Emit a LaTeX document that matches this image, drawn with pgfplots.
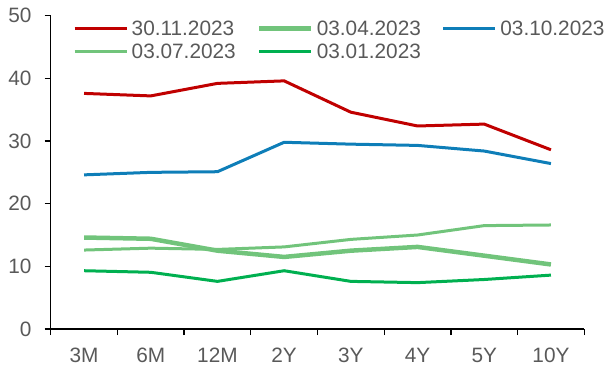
\documentclass[border=0pt]{standalone}
\usepackage{pgfplots}
\pgfplotsset{compat=1.18}
\usepackage{fontspec}
\setmainfont{Liberation Sans}

\definecolor{nov}{HTML}{C00000}
\definecolor{oct}{HTML}{0E7EB8}
\definecolor{midgreen}{HTML}{71C47B}
\definecolor{jan}{HTML}{00B050}
\definecolor{labgray}{HTML}{595959}

\newcommand{\chartfont}{\fontsize{20.8bp}{25bp}\selectfont}

\begin{document}
\begin{tikzpicture}
\begin{axis}[
  name=ax,
  scale only axis,
  width=533.6bp, height=313.3bp,
  xmin=-0.5, xmax=7.5, ymin=0, ymax=50,
  axis x line=bottom, axis y line=left,
  axis line style={-, line width=1.3bp, black},
  xtick={0,...,7},
  xticklabels={3M,6M,12M,2Y,3Y,4Y,5Y,10Y},
  minor xtick={-0.5,0.5,...,7.5},
  major x tick style={draw=none},
  ytick={0,10,...,50},
  tick align=outside,
  major tick length=6bp, minor tick length=6bp,
  tick style={black, line width=1.3bp},
  ticklabel style={font=\chartfont, text=labgray, inner sep=0pt},
  xticklabel style={yshift=-13bp},
  yticklabel style={xshift=-13bp},
  /pgf/number format/assume math mode=true,
  legend columns=3,
  legend cell align=left,
  legend image code/.code={\draw[#1] (0bp,0bp) -- (52bp,0bp);},
  legend style={
    draw=none, fill=none, inner sep=0pt,
    at={(0.0418,0.9837)}, anchor=north west,
    font=\chartfont, text=labgray,
    nodes={inner sep=0pt, text depth=0pt},
    row sep=8.9bp,
    /tikz/every odd column/.append style={column sep=3.5bp},
    /tikz/every even column/.append style={column sep=21bp},
  },
]
\addplot[nov, line width=3bp] coordinates {
  (0,37.6) (1,37.2) (2,39.2) (3,39.6) (4,34.6) (5,32.4) (6,32.7) (7,28.6)};
\addlegendentry{30.11.2023}
\addplot[midgreen, line width=4.5bp] coordinates {
  (0,14.6) (1,14.4) (2,12.5) (3,11.5) (4,12.5) (5,13.1) (6,11.7) (7,10.3)};
\addlegendentry{03.04.2023}
\addplot[oct, line width=3bp] coordinates {
  (0,24.6) (1,25.0) (2,25.1) (3,29.8) (4,29.5) (5,29.3) (6,28.4) (7,26.4)};
\addlegendentry{03.10.2023}
\addplot[midgreen, line width=3bp] coordinates {
  (0,12.6) (1,12.9) (2,12.7) (3,13.1) (4,14.3) (5,15.0) (6,16.5) (7,16.6)};
\addlegendentry{03.07.2023}
\addplot[jan, line width=3bp] coordinates {
  (0,9.3) (1,9.05) (2,7.6) (3,9.3) (4,7.6) (5,7.4) (6,7.9) (7,8.6)};
\addlegendentry{03.01.2023}
\end{axis}
\pgfresetboundingbox
\path[use as bounding box] (ax.south west) ++(-50.7bp,-37bp) rectangle ++(605bp,366bp);
\end{tikzpicture}
\end{document}
